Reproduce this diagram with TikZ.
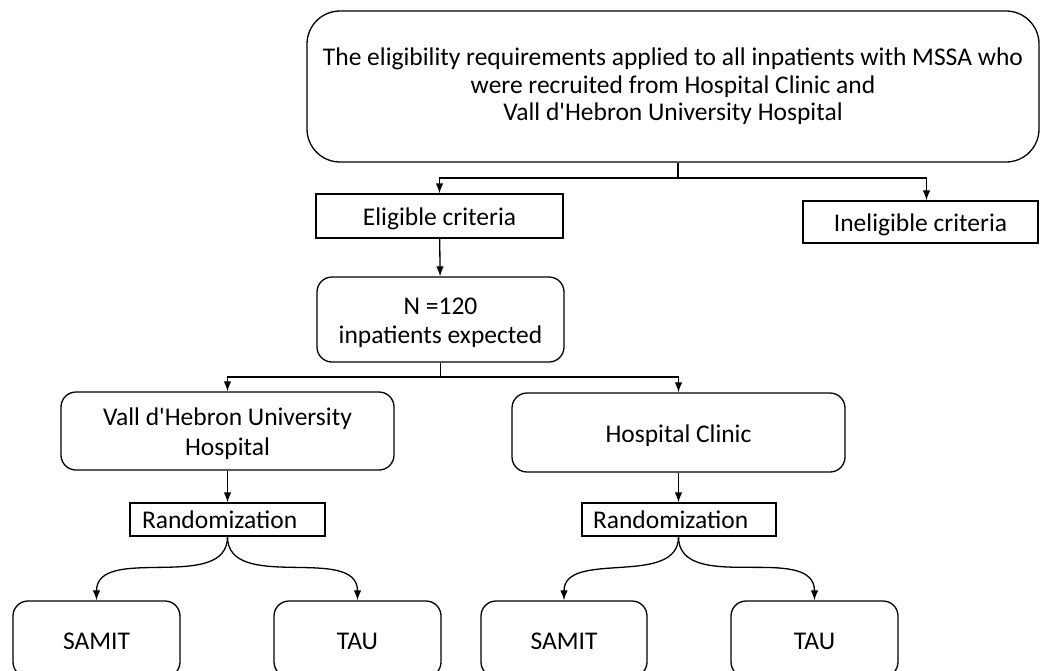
\documentclass[tikz,border=0pt]{standalone}
\usepackage{fontspec}
\setmainfont{Carlito}
\usetikzlibrary{shapes,arrows.meta}
\newcommand\tstrut{\rule[-4pt]{0pt}{28pt}}

\begin{document}
\begin{tikzpicture}[
  x=1pt, y=-1pt, line width=1.3pt,
  every node/.style={font=\fontsize{25.5}{29}\selectfont},
  rbox/.style={draw, rectangle, rounded corners=15pt, align=center, inner sep=0pt},
  sbox/.style={draw, rectangle, align=center, inner sep=0pt},
  randbox/.style={draw, rectangle, align=left, inner ysep=0pt, minimum height=33pt},
  link/.style={-{Latex[length=10pt,width=7.5pt]}}
  ]
  \useasboundingbox (0,0) rectangle (1040,670);
  \clip (0,0) rectangle (1040,670);

  \node[rbox, rounded corners=33pt, minimum width=732pt, minimum height=151pt, font=\fontsize{25.5}{27.5}\selectfont] (top) at (673,86.5) {The eligibility requirements applied to all inpatients with MSSA who\\ were recruited from Hospital Clinic and\\ Vall d\textquotesingle Hebron University Hospital};

  \node[sbox, minimum width=247pt, minimum height=44pt] (elig) at (439.5,216) {\tstrut Eligible criteria};
  \node[sbox, minimum width=235pt, minimum height=42pt] (inelig) at (920.5,222) {\tstrut Ineligible criteria};

  \node[rbox, minimum width=247pt, minimum height=85pt] (npat) at (440.5,319.5) {\tstrut N =120\\ inpatients expected\tstrut};

  \node[rbox, minimum width=333pt, minimum height=78pt, font=\fontsize{25.5}{30}\selectfont] (vall) at (227.5,431) {\tstrut Vall d\textquotesingle Hebron University\\ Hospital\tstrut};
  \node[rbox, minimum width=333pt, minimum height=79pt] (hc) at (678.5,432.5) {\tstrut Hospital Clinic};

  \node[randbox, text width=171pt, inner xsep=12pt] (randL) at (227.5,519.5) {Randomization};
  \node[randbox, text width=172pt, inner xsep=11pt] (randR) at (679,519.5) {Randomization};

  \node[rbox, minimum width=167pt, minimum height=76pt] (samitL) at (96.5,639) {\tstrut SAMIT};
  \node[rbox, minimum width=167pt, minimum height=76pt] (tauL) at (357.5,639) {\tstrut TAU};
  \node[rbox, minimum width=166pt, minimum height=76pt] (samitR) at (564,639) {\tstrut SAMIT};
  \node[rbox, minimum width=167pt, minimum height=76pt] (tauR) at (814.5,639) {\tstrut TAU};

  % split below the top box
  \coordinate (split1) at (678,178);
  \draw (top.south -| split1) -- (split1);
  \draw[link] (split1) -| (elig.north);
  \draw[link] (split1) -| ([xshift=6pt]inelig.north);
  \draw[link] (elig) -- (npat);

  % split below N
  \coordinate (split2) at (440.5,377);
  \draw (npat.south) -- (split2);
  \draw[link] (split2) -| (vall.north);
  \draw[link] (split2) -| (hc.north);

  \draw[link] (vall.south) -- (vall.south |- randL.north);
  \draw[link] (hc.south) -- (hc.south |- randR.north);

  \draw[link] (vall.south |- randL.south) to[out=-90,in=90] (samitL.north);
  \draw[link] (vall.south |- randL.south) to[out=-90,in=90] (tauL.north);
  \draw[link] (hc.south |- randR.south) to[out=-90,in=90] (samitR.north);
  \draw[link] (hc.south |- randR.south) to[out=-90,in=90] (tauR.north);

\end{tikzpicture}
\end{document}
